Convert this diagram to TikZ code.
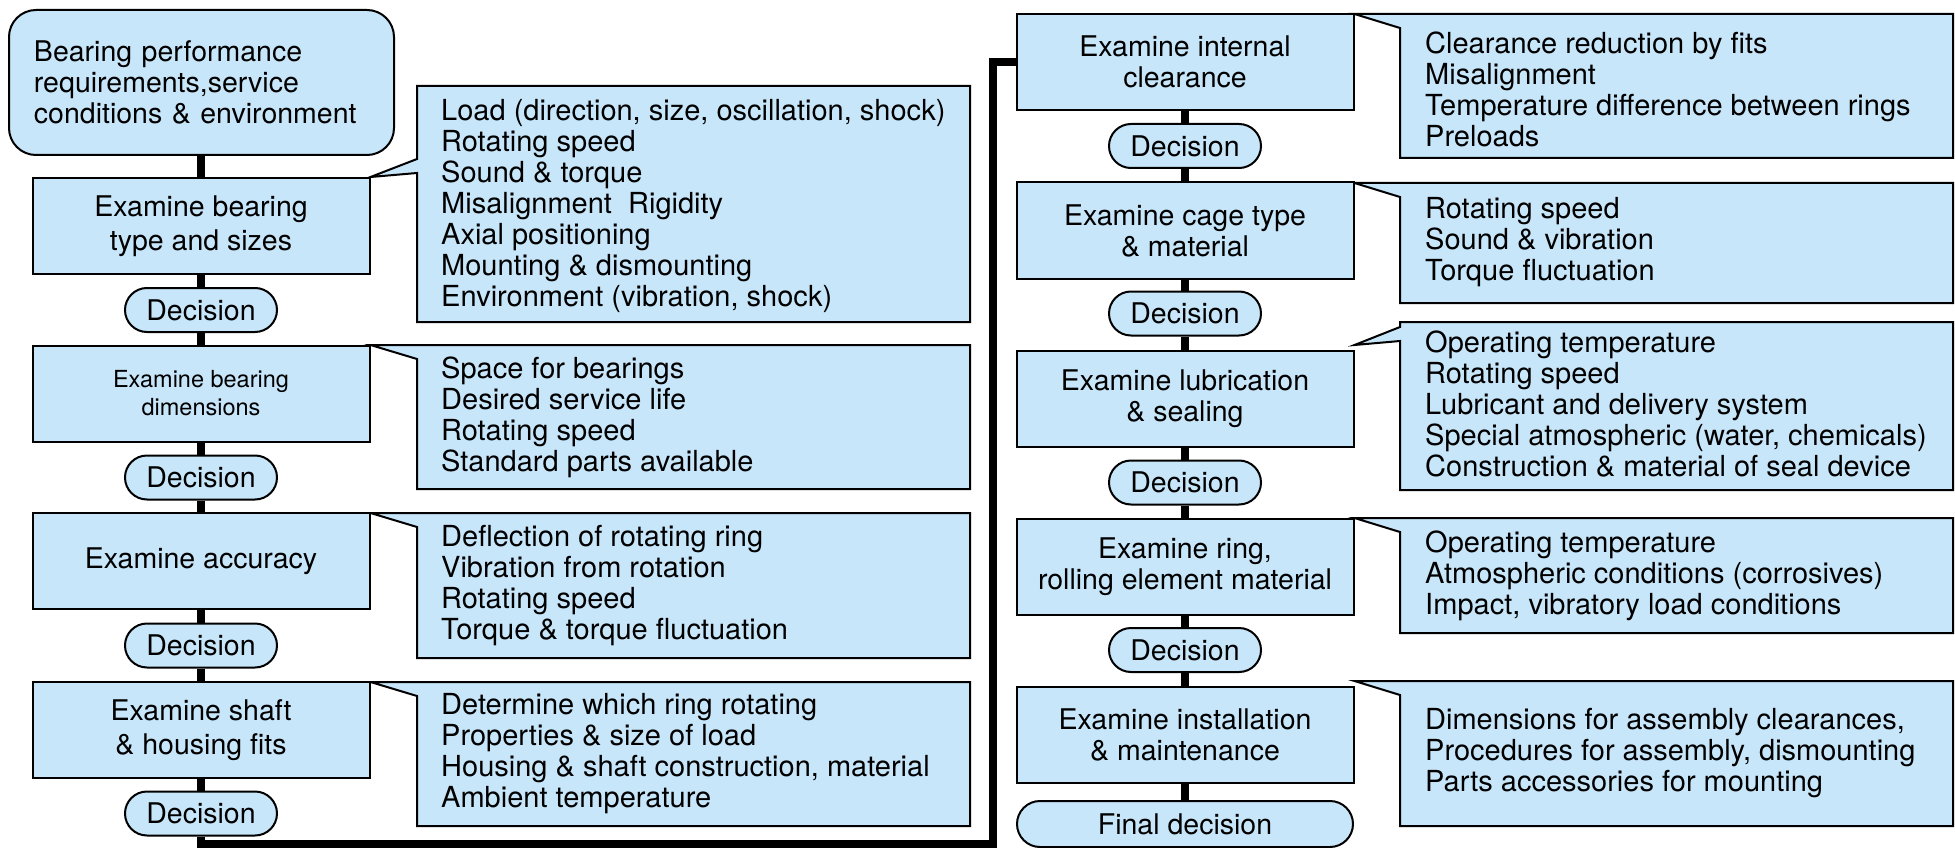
\documentclass[tikz,border=0pt]{standalone}
\usepackage{fontspec}
\setmainfont{TeX Gyre Heros}
\usetikzlibrary{calc,backgrounds}
\definecolor{bfill}{RGB}{200,230,250}
\newcommand\fnA{\fontsize{28.5pt}{31pt}\selectfont}
\newcommand\fnL{\fontsize{28.5pt}{34pt}\selectfont}
\newcommand\fnC{\fontsize{29pt}{31pt}\selectfont}
\newcommand\fnB{\fontsize{23.5pt}{28pt}\selectfont}
\tikzset{
  flow/.style={draw=black, line width=2pt, fill=bfill, inner sep=0pt, font=\fnA},
  stepbox/.style={flow, rectangle, minimum width=337pt, minimum height=96pt, align=center},
  decide/.style={flow, rectangle, rounded corners=22pt, minimum width=152pt, minimum height=44pt},
  startbox/.style={flow, rectangle, rounded corners=27pt, minimum width=385pt, minimum height=145pt,
    inner xsep=25pt, text width=335pt, align=left, anchor=north west},
  cbox/.style={inner sep=0pt, outer sep=0pt, minimum width=553pt, anchor=north west},
  ctext/.style={inner sep=0pt, anchor=west, align=left, font=\fnC},
  cshape/.style={draw=black, line width=2pt, fill=bfill, line join=miter},
  conn/.style={line width=8pt, draw=black, line join=miter},
}
\begin{document}
\begin{tikzpicture}[x=1pt,y=-1pt]
\useasboundingbox (0,0) rectangle (1955,848);
% left column
\node[startbox] (s) at (8,9) {Bearing performance\\requirements,service\\conditions \& environment};
\node[stepbox, font=\fnL] (b1) at (201,226) {Examine bearing\\type and sizes};
\node[decide] (d1) at (201,310) {Decision};
\node[stepbox, font=\fnB] (b2) at (201,393.5) {Examine bearing\\dimensions};
\node[decide] (d2) at (201,477.5) {Decision};
\node[stepbox] (b3) at (201,561) {Examine accuracy};
\node[decide] (d3) at (201,645.5) {Decision};
\node[stepbox, font=\fnL] (b4) at (201,730) {Examine shaft\\\& housing fits};
\node[decide] (d4) at (201,813.5) {Decision};
% right column
\node[stepbox] (r1) at (1185,62) {Examine internal\\clearance};
\node[decide] (e1) at (1185,146) {Decision};
\node[stepbox] (r2) at (1185,230.5) {Examine cage type\\\& material};
\node[decide] (e2) at (1185,313.5) {Decision};
\node[stepbox] (r3) at (1185,399) {Examine lubrication\\\& sealing};
\node[decide] (e3) at (1185,482.5) {Decision};
\node[stepbox] (r4) at (1185,567) {Examine ring,\\rolling element material};
\node[decide] (e4) at (1185,650) {Decision};
\node[stepbox] (r5) at (1185,735) {Examine installation\\\& maintenance};
\node[decide, minimum width=336pt, minimum height=46pt, rounded corners=23pt] (fin) at (1185,824) {Final decision};
% callout frames
\node[cbox, minimum height=236pt] (c1) at (417,86) {};
\node[cbox, minimum height=144pt] (c2) at (417,345) {};
\node[cbox, minimum height=145pt] (c3) at (417,513) {};
\node[cbox, minimum height=144pt] (c4) at (417,682) {};
\node[cbox, minimum height=144pt] (k1) at (1400,14) {};
\node[cbox, minimum height=120pt] (k2) at (1400,183) {};
\node[cbox, minimum height=168pt] (k3) at (1400,322) {};
\node[cbox, minimum height=115pt] (k4) at (1400,518) {};
\node[cbox, minimum height=145pt] (k5) at (1400,681) {};
% callout texts
\node[ctext] (t1) at ($(c1.west)+(24,2)$) {Load (direction, size, oscillation, shock)\\Rotating speed\\Sound \& torque\\Misalignment\ \ Rigidity\\Axial positioning\\Mounting \& dismounting\\Environment (vibration, shock)};
\node[ctext] (t2) at ($(c2.west)+(24,0)$) {Space for bearings\\Desired service life\\Rotating speed\\Standard parts available};
\node[ctext] (t3) at ($(c3.west)+(24,0)$) {Deflection of rotating ring\\Vibration from rotation\\Rotating speed\\Torque \& torque fluctuation};
\node[ctext] (t4) at ($(c4.west)+(24,0)$) {Determine which ring rotating\\Properties \& size of load\\Housing \& shaft construction, material\\Ambient temperature};
\node[ctext] (u1) at ($(k1.west)+(25,3)$) {Clearance reduction by fits\\Misalignment\\Temperature difference between rings\\Preloads};
\node[ctext] (u2) at ($(k2.west)+(25,-1)$) {Rotating speed\\Sound \& vibration\\Torque fluctuation};
\node[ctext] (u3) at ($(k3.west)+(25,-2)$) {Operating temperature\\Rotating speed\\Lubricant and delivery system\\Special atmospheric (water, chemicals)\\Construction \& material of seal device};
\node[ctext] (u4) at ($(k4.west)+(25,0)$) {Operating temperature\\Atmospheric conditions (corrosives)\\Impact, vibratory load conditions};
\node[ctext] (u5) at ($(k5.west)+(25,0)$) {Dimensions for assembly clearances,\\Procedures for assembly, dismounting\\Parts accessories for mounting};
% callout shapes
\begin{scope}[on background layer]
\fill[white] (0,0) rectangle (1955,848);
\draw[cshape] (c1.north west) -- (c1.north east) -- (c1.south east) -- (c1.south west)
  -- ($(c1.north west)+(0,87)$) -- (b1.north east) -- ($(c1.north west)+(0,73)$) -- cycle;
\draw[cshape] (b2.north east |- c2.north) -- (c2.north east) -- (c2.south east) -- (c2.south west) -- ($(c2.north west)+(0,14)$) -- cycle;
\draw[cshape] (b3.north east |- c3.north) -- (c3.north east) -- (c3.south east) -- (c3.south west) -- ($(c3.north west)+(0,14)$) -- cycle;
\draw[cshape] (b4.north east |- c4.north) -- (c4.north east) -- (c4.south east) -- (c4.south west) -- ($(c4.north west)+(0,14)$) -- cycle;
\draw[cshape] (r1.north east |- k1.north) -- (k1.north east) -- (k1.south east) -- (k1.south west) -- ($(k1.north west)+(0,14)$) -- cycle;
\draw[cshape] (r2.north east |- k2.north) -- (k2.north east) -- (k2.south east) -- (k2.south west) -- ($(k2.north west)+(0,14)$) -- cycle;
\draw[cshape] (k3.north west) -- (k3.north east) -- (k3.south east) -- (k3.south west)
  -- ($(k3.north west)+(0,19)$) -- ($(r3.north east)+(0,-5)$) -- ($(k3.north west)+(0,5)$) -- cycle;
\draw[cshape] (r4.north east |- k4.north) -- (k4.north east) -- (k4.south east) -- (k4.south west) -- ($(k4.north west)+(0,14)$) -- cycle;
\draw[cshape] (r5.north east |- k5.north) -- (k5.north east) -- (k5.south east) -- (k5.south west) -- ($(k5.north west)+(0,14)$) -- cycle;
\end{scope}
% connectors
\draw[conn] (s.south -| b1.north) -- (b1.north);
\draw[conn] (b1.south) -- (d1.north);
\draw[conn] (d1.south) -- (b2.north);
\draw[conn] (b2.south) -- (d2.north);
\draw[conn] (d2.south) -- (b3.north);
\draw[conn] (b3.south) -- (d3.north);
\draw[conn] (d3.south) -- (b4.north);
\draw[conn] (b4.south) -- (d4.north);
\coordinate (turn) at (993,844);
\draw[conn] (d4.south) |- (turn) |- (r1.west);
\draw[conn] (r1.south) -- (e1.north);
\draw[conn] (e1.south) -- (r2.north);
\draw[conn] (r2.south) -- (e2.north);
\draw[conn] (e2.south) -- (r3.north);
\draw[conn] (r3.south) -- (e3.north);
\draw[conn] (e3.south) -- (r4.north);
\draw[conn] (r4.south) -- (e4.north);
\draw[conn] (e4.south) -- (r5.north);
\draw[conn] (r5.south) -- (fin.north);
\end{tikzpicture}
\end{document}
